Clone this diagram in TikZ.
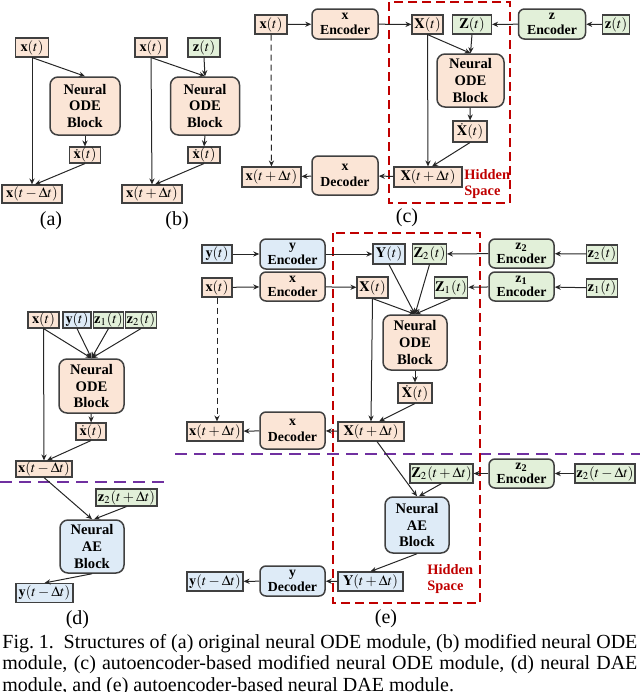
\documentclass[tikz,border=0pt]{standalone}
\usepackage{mathptmx}
\usepackage{fontspec}
\setmainfont{Liberation Serif}
\usetikzlibrary{arrows.meta,calc}
\definecolor{peach}{HTML}{FBE5D6}
\definecolor{grn}{HTML}{E2F0D9}
\definecolor{blu}{HTML}{DEEBF7}
\definecolor{bordc}{HTML}{404040}
\definecolor{arrc}{HTML}{262626}
\definecolor{hidred}{HTML}{C00000}
\definecolor{purp}{HTML}{7030A0}
\newcommand{\myfsm}{\fontsize{7.2}{8}\selectfont}
\newcommand{\myfblk}{\fontsize{7.3}{8.3}\selectfont\bfseries}
\newcommand{\myfenc}{\fontsize{6.9}{7.2}\selectfont\bfseries}
\newcommand{\myfdec}{\fontsize{6.9}{8}\selectfont\bfseries}
\newcommand{\myflab}{\fontsize{10}{10}\selectfont}
\newcommand{\myfhid}{\fontsize{7.2}{8.4}\selectfont\bfseries}
\newcommand{\myfcap}{\fontsize{10}{10}\selectfont}
\tikzset{
  pe/.style={fill=peach}, gr/.style={fill=grn}, bl/.style={fill=blu},
  bx/.style 2 args={draw=bordc, line width=0.55pt, inner xsep=0.5pt, inner ysep=0pt,
    minimum width=#1*0.5pt, minimum height=#2*0.5pt, font=\myfsm},
  blk/.style 2 args={draw=bordc, line width=0.75pt, rounded corners=4pt, inner sep=0pt,
    minimum width=#1*0.5pt, minimum height=#2*0.5pt, align=center, font=\myfblk},
  enc/.style 2 args={draw=bordc, line width=0.75pt, rounded corners=3pt, inner sep=0pt,
    minimum width=#1*0.5pt, minimum height=#2*0.5pt, align=center, font=\myfenc},
  dec/.style 2 args={draw=bordc, line width=0.75pt, rounded corners=3pt, inner sep=0pt,
    minimum width=#1*0.5pt, minimum height=#2*0.5pt, align=center, font=\myfdec},
  arr/.style={draw=arrc, line width=0.5pt, -{Stealth[length=3pt,width=2.6pt]}},
  dsh/.style={dash pattern=on 3pt off 2pt},
  lab/.style={font=\myflab, inner sep=0pt},
  hid/.style={text=hidred, font=\myfhid, align=left, anchor=west, inner sep=0pt},
  redbox/.style={draw=hidred, line width=1.2pt, dash pattern=on 4.5pt off 2.5pt},
  purline/.style={draw=purp, line width=1pt, dash pattern=on 6pt off 3.5pt},
}
\begin{document}
\begin{tikzpicture}[x=0.5pt,y=-0.5pt]
\useasboundingbox (0,0) rectangle (640,692);
% background guides
\draw[purline] (0,482) -- (170,482);
\draw[purline] (175,454) -- (640,454);
\draw[redbox] (389,2) rectangle (510,203);
\draw[redbox] (333,233) rectangle (480,603);

% ---------------- (a)
\node[bx={33}{19},pe] (ax) at (32,47.5) {$\mathbf{x}(t)$};
\node[blk={70}{58},pe] (ab) at (85,106) {Neural\\ODE\\Block};
\node[bx={31}{16},pe] (axd) at (85,155) {$\dot{\mathbf{x}}(t)$};
\node[bx={60}{18},pe] (ao) at (32,194) {$\mathbf{x}(t-\Delta t)$};
\node[lab] (la) at (51,221) {(a)};
\draw[arr] (ax.south) -- (ao.north);
\draw[arr] (ax.south) -- (ab.north);
\draw[arr] (ab) -- (axd);
\draw[arr] (axd.south) -- ($(ao.north)+(3,0)$);

% ---------------- (b)
\node[bx={32}{19},pe] (bx) at (151,47.5) {$\mathbf{x}(t)$};
\node[bx={32}{19},gr] (bz) at (204,47.5) {$\mathbf{z}(t)$};
\node[blk={69}{58},pe] (bb) at (205,106) {Neural\\ODE\\Block};
\node[bx={32}{16},pe] (bxd) at (204,155) {$\dot{\mathbf{x}}(t)$};
\node[bx={60}{18},pe] (bo) at (152,194) {$\mathbf{x}(t+\Delta t)$};
\node[lab] (lb) at (177,221) {(b)};
\draw[arr] (bx.south) -- (bo.north);
\draw[arr] (bx.south) -- (bb.north);
\draw[arr] (bz.south) -- (bb.north);
\draw[arr] (bb.south) -- (bxd.north);
\draw[arr] (bxd.south) -- ($(bo.north)+(3,0)$);

% ---------------- (c)
\node[bx={32}{19},pe] (cx) at (271,24.5) {$\mathbf{x}(t)$};
\node[enc={66}{30},pe] (cenc) at (345,24) {x\\Encoder};
\node[bx={31}{19},pe] (cX) at (427.5,24.5) {$\mathbf{X}(t)$};
\node[bx={39}{19},gr] (cZ) at (472,24.5) {$\mathbf{Z}(t)$};
\node[enc={67}{30},gr] (czenc) at (552,24) {z\\Encoder};
\node[bx={27}{19},gr] (cz) at (616,24.5) {$\mathbf{z}(t)$};
\node[blk={67}{53},pe] (cb) at (470.5,80.5) {Neural\\ODE\\Block};
\node[bx={34}{21},pe] (cXd) at (470,131.5) {$\dot{\mathbf{X}}(t)$};
\node[bx={68}{20},pe] (cXo) at (428,177) {$\mathbf{X}(t+\Delta t)$};
\node[dec={66}{39},pe] (cdec) at (345,175.5) {x\\Decoder};
\node[bx={59}{20},pe] (cxo) at (271.5,177) {$\mathbf{x}(t+\Delta t)$};
\node[hid] (chid) at (464,184) {Hidden\\Space};
\node[lab] (lc) at (407,218) {(c)};
\draw[arr] (cx) -- (cenc);
\draw[arr] (cenc) -- (cX);
\draw[arr] (cz) -- (czenc);
\draw[arr] (czenc) -- (cZ);
\draw[arr] (cX.south) -- (cb.north);
\draw[arr] (cZ.south) -- (cb.north);
\draw[arr] (cb) -- (cXd);
\draw[arr] (cX.south) -- (cXo.north);
\draw[arr] (cXd.south) -- ($(cXo.north)+(4,0)$);
\draw[arr] (cXo) -- (cdec);
\draw[arr] (cdec) -- (cxo);
\draw[arr,dsh] (cx) -- (cxo);

% ---------------- (d)
\node[bx={31}{16},pe] (dx) at (43.5,320) {$\mathbf{x}(t)$};
\node[bx={28}{16},bl] (dy) at (77,320) {$\mathbf{y}(t)$};
\node[bx={29}{16},gr] (dz1) at (108.5,320) {$\mathbf{z}_1(t)$};
\node[bx={30}{16},gr] (dz2) at (141,320) {$\mathbf{z}_2(t)$};
\node[blk={65}{54},pe] (db) at (91.5,386) {Neural\\ODE\\Block};
\node[bx={30}{17},pe] (dxd) at (91,431.5) {$\dot{\mathbf{x}}(t)$};
\node[bx={56}{16},pe] (dxo) at (44,469) {$\mathbf{x}(t-\Delta t)$};
\node[bx={61}{17},gr] (dz2o) at (126.5,497.5) {$\mathbf{z}_2(t+\Delta t)$};
\node[blk={64}{53},bl] (dae) at (92,546.5) {Neural\\AE\\Block};
\node[bx={57}{19},bl] (dyo) at (44.5,593) {$\mathbf{y}(t-\Delta t)$};
\node[lab] (ld) at (77.5,620) {(d)};
\draw[arr] (dx.south) -- (db.north);
\draw[arr] (dy.south) -- (db.north);
\draw[arr] (dz1.south) -- (db.north);
\draw[arr] (dz2.south) -- (db.north);
\draw[arr] (dx.south) -- (dxo.north);
\draw[arr] (db) -- (dxd);
\draw[arr] (dxd.south) -- ($(dxo.north)+(3,0)$);
\draw[arr] (dxo.south) -- (dae.north);
\draw[arr] (dz2o.south) -- ($(dae.north)+(2,0)$);
\draw[arr] (dae.south) -- (dyo.north);

% ---------------- (e)
\node[bx={30}{18},bl] (ey) at (217,254) {$\mathbf{y}(t)$};
\node[enc={65}{30},bl] (eyenc) at (292.5,254) {y\\Encoder};
\node[bx={30}{19},pe] (ex) at (217,287.5) {$\mathbf{x}(t)$};
\node[enc={65}{29},pe] (exenc) at (292.5,286.5) {x\\Encoder};
\node[bx={32}{20},bl] (eY) at (389,254) {$\mathbf{Y}(t)$};
\node[bx={33}{20},gr] (eZ2) at (429.5,254) {$\mathbf{Z}_2(t)$};
\node[enc={65}{29},gr] (ez2enc) at (521.5,253.5) {z\textsubscript{2}\\Encoder};
\node[bx={30}{18},gr] (ez2) at (602,254) {$\mathbf{z}_2(t)$};
\node[bx={31}{21},pe] (eX) at (372.5,287.5) {$\mathbf{X}(t)$};
\node[bx={32}{21},gr] (eZ1) at (451,287.5) {$\mathbf{Z}_1(t)$};
\node[enc={65}{29},gr] (ez1enc) at (521.5,286.5) {z\textsubscript{1}\\Encoder};
\node[bx={30}{18},gr] (ez1) at (602,288) {$\mathbf{z}_1(t)$};
\node[blk={64}{55},pe] (eb) at (415,342.5) {Neural\\ODE\\Block};
\node[bx={34}{20},pe] (eXd) at (415,393) {$\dot{\mathbf{X}}(t)$};
\node[bx={66}{19},pe] (eXo) at (371,431.5) {$\mathbf{X}(t+\Delta t)$};
\node[dec={65}{37},pe] (edec) at (292.5,430.5) {x\\Decoder};
\node[bx={56}{19},pe] (exo) at (215,431.5) {$\mathbf{x}(t+\Delta t)$};
\node[bx={63}{19},gr] (eZ2o) at (441.5,473.5) {$\mathbf{Z}_2(t+\Delta t)$};
\node[enc={65}{29},gr] (ez2enc2) at (521.5,473.5) {z\textsubscript{2}\\Encoder};
\node[bx={60}{19},gr] (ez2i) at (605,473.5) {$\mathbf{z}_2(t-\Delta t)$};
\node[blk={64}{56},bl] (eae) at (417,525) {Neural\\AE\\Block};
\node[bx={65}{19},bl] (eYo) at (370.5,581.5) {$\mathbf{Y}(t+\Delta t)$};
\node[enc={65}{30},bl] (eydec) at (292.5,581) {y\\Decoder};
\node[bx={56}{19},bl] (eyo) at (215,581.5) {$\mathbf{y}(t-\Delta t)$};
\node[hid] (ehid) at (427,579) {Hidden\\Space};
\node[lab] (le) at (386,619) {(e)};
\draw[arr] (ey) -- (eyenc);
\draw[arr] (eyenc) -- (eY);
\draw[arr] (ex) -- (exenc);
\draw[arr] (exenc) -- (eX);
\draw[arr] (ez2) -- (ez2enc);
\draw[arr] (ez2enc) -- (eZ2);
\draw[arr] (ez1) -- (ez1enc);
\draw[arr] (ez1enc) -- (eZ1);
\draw[arr] (eY.south) -- (eb.north);
\draw[arr] (eZ2.south) -- (eb.north);
\draw[arr] (eX.south) -- (eb.north);
\draw[arr] (eZ1.south) -- (eb.north);
\draw[arr] (eb) -- (eXd);
\draw[arr] (eX.south) -- (eXo.north);
\draw[arr] (eXd.south) -- ($(eXo.north)+(8,0)$);
\draw[arr] (eXo) -- (edec);
\draw[arr] (edec) -- (exo);
\draw[arr,dsh] (ex.south) -- ($(exo.north)+(2,0)$);
\draw[arr] ($(eXo.south)+(6,0)$) -- (eae.north);
\draw[arr] (ez2i) -- (ez2enc2);
\draw[arr] (ez2enc2) -- (eZ2o);
\draw[arr] (eZ2o.south) -- ($(eae.north)+(2,0)$);
\draw[arr] (eae.south) -- (eYo.north);
\draw[arr] (eYo) -- (eydec);
\draw[arr] (eydec) -- (eyo);

% ---------------- caption
\node[anchor=base west, inner sep=0pt, font=\myfcap] (cap1) at (2,648)
  {\hbox to 317.5pt{Fig.~1.\ \ Structures of (a) original neural ODE module, (b) modified neural ODE}};
\node[anchor=base west, inner sep=0pt, font=\myfcap] (cap2) at (2,669)
  {\hbox to 317.5pt{module, (c) autoencoder-based modified neural ODE module, (d) neural DAE}};
\node[anchor=base west, inner sep=0pt, font=\myfcap] (cap3) at (2,691)
  {module, and (e) autoencoder-based neural DAE module.};
\end{tikzpicture}
\end{document}
